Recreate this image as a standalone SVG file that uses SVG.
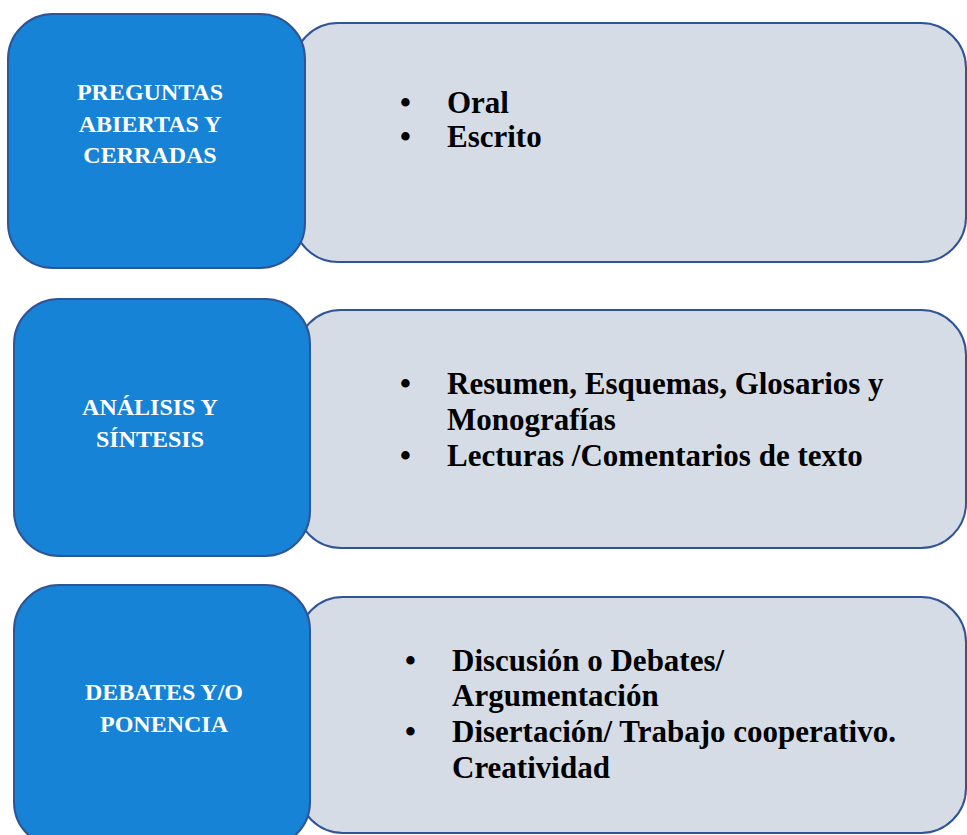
<svg xmlns="http://www.w3.org/2000/svg" width="967" height="835" viewBox="0 0 967 835">
<style>
.grey{fill:#D6DCE5;stroke:#2F5597;stroke-width:2}
.blue{fill:#1783D6;stroke:#2F5597;stroke-width:2}
.lt{font-family:"Liberation Serif","Times New Roman",serif;font-weight:bold;font-size:24px;fill:#FFFFFF;text-anchor:middle}
.rt{font-family:"Liberation Serif","Times New Roman",serif;font-weight:bold;font-size:31px;fill:#000000}
</style>
<rect width="967" height="835" fill="#FFFFFF"/>
<g id="connectors"></g>
<g id="detail1">
<rect class="grey" x="293" y="23" width="673" height="239" rx="45" ry="45"/>
<text class="rt" x="400" y="113">•</text><text class="rt" x="447" y="113">Oral</text>
<text class="rt" x="400" y="147">•</text><text class="rt" x="447" y="147">Escrito</text>
</g>
<g id="node1">
<rect class="blue" x="8" y="14" width="297" height="254" rx="45" ry="45"/>
<text class="lt" x="150" y="100">PREGUNTAS</text>
<text class="lt" x="150" y="132">ABIERTAS Y</text>
<text class="lt" x="150" y="163">CERRADAS</text>
</g>
<g id="detail2">
<rect class="grey" x="296" y="310" width="670" height="238" rx="45" ry="45"/>
<text class="rt" x="400" y="394">•</text><text class="rt" x="447" y="394">Resumen, Esquemas, Glosarios y</text>
<text class="rt" x="447" y="430">Monografías</text>
<text class="rt" x="400" y="466">•</text><text class="rt" x="447" y="466">Lecturas /Comentarios de texto</text>
</g>
<g id="node2">
<rect class="blue" x="14" y="299" width="296" height="257" rx="45" ry="45"/>
<text class="lt" x="150" y="415">ANÁLISIS Y</text>
<text class="lt" x="150" y="447">SÍNTESIS</text>
</g>
<g id="detail3">
<rect class="grey" x="298" y="597" width="668" height="236" rx="45" ry="45"/>
<text class="rt" x="405" y="671">•</text><text class="rt" x="452" y="671">Discusión o Debates/</text>
<text class="rt" x="452" y="706">Argumentación</text>
<text class="rt" x="405" y="742">•</text><text class="rt" x="452" y="742">Disertación/ Trabajo cooperativo.</text>
<text class="rt" x="452" y="778">Creatividad</text>
</g>
<g id="node3">
<rect class="blue" x="14" y="585" width="296" height="262" rx="45" ry="45"/>
<text class="lt" x="164" y="700">DEBATES Y/O</text>
<text class="lt" x="164" y="732">PONENCIA</text>
</g>
</svg>
